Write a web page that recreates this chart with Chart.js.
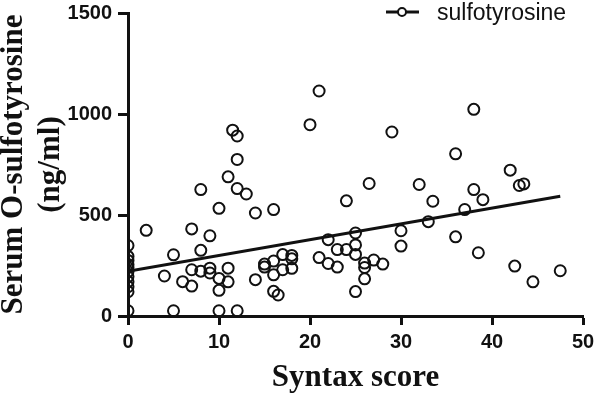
<!DOCTYPE html>
<html>
<head>
<meta charset="utf-8">
<script src="https://cdn.jsdelivr.net/npm/chart.js@4"></script>
<style>
  html, body { margin: 0; padding: 0; background: #fff; }
  #wrap { width: 595px; height: 393px; position: relative; }
</style>
</head>
<body>
<div id="wrap"><canvas id="chart"></canvas></div>
<script>
// Syntax score (x) and serum O-sulfotyrosine in ng/ml (y)
const syntaxScore = [
  0, 0, 0, 0, 0, 0, 0, 0, 0, 0, 0,
  2, 4, 5, 5, 6, 7, 7, 7, 8, 8, 8, 9, 9, 9,
  10, 10, 10, 10, 11, 11, 11, 11.5, 12, 12, 12, 12,
  13, 14, 14, 15, 15, 16, 16, 16, 16, 16.5, 17, 17, 18, 18, 18,
  20, 21, 21, 22, 22, 23, 23, 24, 24, 25, 25, 25, 25,
  26, 26, 26, 26.5, 27, 28, 29, 30, 30, 32, 33, 33.5,
  36, 36, 37, 38, 38, 38.5, 39, 42, 42.5, 43, 43.5, 44.5, 47.5
];
const sulfotyrosine = [
  349, 295, 275, 255, 240, 220, 195, 170, 145, 120, 26,
  424, 198, 303, 26, 170, 431, 229, 148, 626, 325, 222, 397, 237, 213,
  533, 186, 127, 26, 689, 237, 169, 920, 891, 775, 631, 26,
  604, 510, 180, 257, 242, 527, 272, 204, 122, 104, 304, 229, 300, 283, 236,
  947, 1114, 289, 378, 260, 329, 242, 570, 329, 411, 352, 305, 121,
  262, 240, 184, 656, 277, 257, 911, 422, 346, 651, 467, 568,
  803, 392, 527, 1023, 626, 313, 576, 722, 247, 646, 654, 169, 224
];
// fitted regression line (end points as drawn)
const fitX = [0, 47.5];
const fitY = [222, 593];

const xTicks = [0, 10, 20, 30, 40, 50];
const yTicks = [0, 500, 1000, 1500];
const seriesLabel = 'sulfotyrosine';
const xTitle = 'Syntax score';
const yTitle = ['Serum O-sulfotyrosine', '(ng/ml)'];

const ink = '#111';
const tickFont = { family: '"Liberation Sans", Arial, sans-serif', size: 20, weight: 'bold' };
const titleFont = { family: '"Liberation Serif", "Times New Roman", serif', size: 31, weight: 'bold', lineHeight: 1.2 };

// legend drawn by hand in the top right corner
const legendPlugin = {
  id: 'cornerLegend',
  afterDraw(chart) {
    const ctx = chart.ctx;
    ctx.save();
    ctx.strokeStyle = ink;
    ctx.lineWidth = 3;
    ctx.beginPath();
    ctx.moveTo(386, 12);
    ctx.lineTo(419, 12);
    ctx.stroke();
    ctx.lineWidth = 2;
    ctx.fillStyle = '#fff';
    ctx.beginPath();
    ctx.arc(402, 12, 4, 0, Math.PI * 2);
    ctx.fill();
    ctx.stroke();
    ctx.fillStyle = ink;
    ctx.font = '23px "Liberation Sans", Arial, sans-serif';
    ctx.textBaseline = 'alphabetic';
    ctx.textAlign = 'left';
    ctx.fillText(seriesLabel, 437, 20);
    ctx.restore();
  }
};

const points = syntaxScore.map((x, i) => ({ x: x, y: sulfotyrosine[i] }));
const fitLine = fitX.map((x, i) => ({ x: x, y: fitY[i] }));

new Chart(document.getElementById('chart'), {
  type: 'scatter',
  data: {
    datasets: [
      {
        label: seriesLabel,
        data: points,
        showLine: false,
        pointRadius: 5.5,
        pointHoverRadius: 5.5,
        pointBorderWidth: 2,
        pointBorderColor: ink,
        pointBackgroundColor: 'rgba(0,0,0,0)'
      },
      {
        label: 'fit',
        data: fitLine,
        showLine: true,
        borderColor: ink,
        borderWidth: 3,
        pointRadius: 0
      }
    ]
  },
  options: {
    responsive: true,
    maintainAspectRatio: false,
    animation: false,
    layout: { padding: { top: 13, right: 12, left: 0, bottom: 0 } },
    plugins: { legend: { display: false }, tooltip: { enabled: false } },
    scales: {
      x: {
        type: 'linear',
        min: 0,
        max: 50,
        afterFit: (scale) => {
          scale.height = 77;
          scale.paddingLeft = 0;
          scale.paddingRight = 0;
        },
        afterBuildTicks: (scale) => { scale.ticks = xTicks.map(v => ({ value: v })); },
        border: { display: true, width: 3, color: ink },
        grid: { drawOnChartArea: false, drawTicks: true, tickLength: 9, tickWidth: 3, tickColor: ink, color: ink },
        ticks: { color: ink, font: tickFont, padding: 5, maxRotation: 0, callback: (v) => String(v) },
        title: { display: true, text: xTitle, color: ink, font: titleFont, padding: { top: 0, bottom: -4 } }
      },
      y: {
        type: 'linear',
        min: 0,
        max: 1500,
        afterFit: (scale) => {
          scale.width = 128;
          scale.paddingTop = 0;
          scale.paddingBottom = 0;
        },
        afterBuildTicks: (scale) => { scale.ticks = yTicks.map(v => ({ value: v })); },
        border: { display: true, width: 3, color: ink },
        grid: { drawOnChartArea: false, drawTicks: true, tickLength: 10, tickWidth: 3, tickColor: ink, color: ink },
        ticks: { color: ink, font: tickFont, padding: 6, callback: (v) => String(v) },
        title: { display: true, text: yTitle, color: ink, font: titleFont, padding: { top: -5, bottom: 0 } }
      }
    }
  },
  plugins: [legendPlugin]
});
</script>
</body>
</html>
